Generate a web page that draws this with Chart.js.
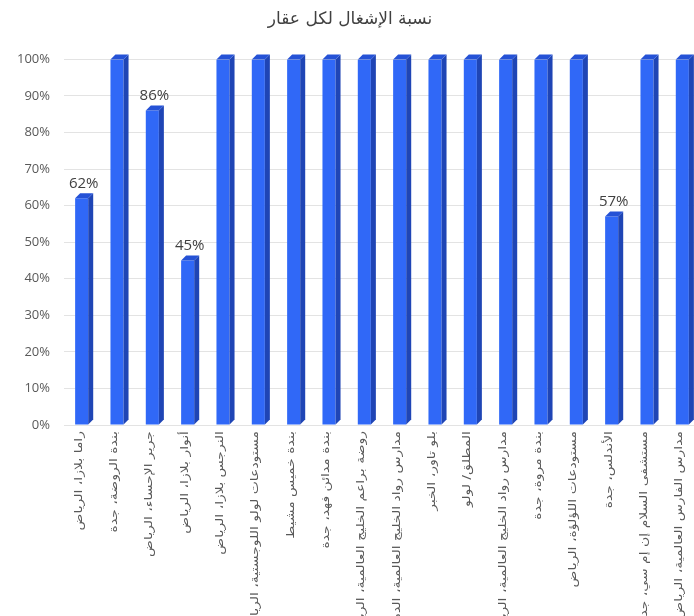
<!DOCTYPE html>
<html>
<head>
<meta charset="utf-8">
<script src="https://cdn.jsdelivr.net/npm/chart.js@4/dist/chart.umd.min.js"></script>
<style>
  html, body { margin: 0; padding: 0; background: #fff; overflow: hidden; }
  #wrap { width: 700px; height: 616px; }
</style>
</head>
<body>
<div id="wrap"><canvas id="chart"></canvas></div>
<script>
// categories (properties) and occupancy values
var properties = [
  "راما بلازا، الرياض",
  "بندة الروضة، جدة",
  "جرير الإحساء، الرياض",
  "أنوار بلازا، الرياض",
  "النرجس بلازا، الرياض",
  "مستودعات لولو اللوجستية، الرياض",
  "بندة خميس مشيط",
  "بندة مدائن فهد، جدة",
  "روضة براعم الخليج العالمية، الرياض",
  "مدارس رواد الخليج العالمية، الدمام",
  "بلو تاور، الخبر",
  "المطلق/ لولو",
  "مدارس رواد الخليج العالمية، الرياض",
  "بندة مروة، جدة",
  "مستودعات اللؤلؤة، الرياض",
  "الأندلس، جدة",
  "مستشفى السلام إن إم سي، جدة",
  "مدارس الفارس العالمية، الرياض"
];
var occupancy = [62, 100, 86, 45, 100, 100, 100, 100, 100, 100, 100, 100, 100, 100, 100, 57, 100, 100];
var yTicks = [0, 10, 20, 30, 40, 50, 60, 70, 80, 90, 100];

var arabicFont = "'DejaVu Sans', 'Noto Sans', sans-serif";

// fake 3d sides + value labels for bars under 100%
var bars3d = {
  id: "bars3d",
  afterDatasetsDraw: function(chart) {
    var ctx = chart.ctx;
    var meta = chart.getDatasetMeta(0);
    var d = 5;
    ctx.save();
    meta.data.forEach(function(bar, i) {
      var half = bar.width / 2;
      var l = bar.x - half, r = bar.x + half;
      // side
      ctx.fillStyle = "#1f45b5";
      ctx.beginPath();
      ctx.moveTo(r, bar.y);
      ctx.lineTo(r + d, bar.y - d);
      ctx.lineTo(r + d, bar.base - d);
      ctx.lineTo(r, bar.base);
      ctx.closePath();
      ctx.fill();
      // top
      ctx.fillStyle = "#2552d6";
      ctx.beginPath();
      ctx.moveTo(l, bar.y);
      ctx.lineTo(l + d, bar.y - d);
      ctx.lineTo(r + d, bar.y - d);
      ctx.lineTo(r, bar.y);
      ctx.closePath();
      ctx.fill();

      var v = occupancy[i];
      if (v < 100) {
        ctx.fillStyle = "#404040";
        ctx.font = "15px 'Open Sans', 'DejaVu Sans', sans-serif";
        ctx.textAlign = "center";
        ctx.textBaseline = "bottom";
        ctx.fillText(v + "%", bar.x + 2, bar.y - d - 2);
      }
    });
    ctx.restore();
  }
};

// x labels drawn stretched along their length (the original font is wider)
var xLabels = {
  id: "xLabels",
  afterDraw: function(chart) {
    var ctx = chart.ctx;
    var xs = chart.scales.x;
    ctx.save();
    ctx.fillStyle = "#595959";
    ctx.font = "11px " + arabicFont;
    ctx.textAlign = "right";
    ctx.textBaseline = "middle";
    properties.forEach(function(name, i) {
      var x = xs.getPixelForTick(i) - 3;
      ctx.save();
      ctx.translate(x, xs.top + 6);
      ctx.rotate(-Math.PI / 2);
      ctx.scale(1.27, 1);
      ctx.fillText(name, 0, 0);
      ctx.restore();
    });
    ctx.restore();
  }
};

new Chart(document.getElementById("chart"), {
  type: "bar",
  data: {
    labels: properties,
    datasets: [{
      data: occupancy,
      backgroundColor: "#3068f7",
      borderWidth: 0,
      barPercentage: 0.37,
      categoryPercentage: 1.0
    }]
  },
  options: {
    responsive: true,
    maintainAspectRatio: false,
    animation: false,
    layout: { padding: 0 },
    plugins: {
      legend: { display: false },
      tooltip: { enabled: false },
      title: {
        display: true,
        text: "نسبة الإشغال لكل عقار",
        color: "#404040",
        font: { family: arabicFont, size: 17, weight: "normal" },
        padding: { top: 9, bottom: 30 }
      }
    },
    scales: {
      x: {
        grid: { display: false, drawTicks: false },
        border: { display: false },
        ticks: { display: false, autoSkip: false },
        afterFit: function(scale) { scale.height = 191; }
      },
      y: {
        min: 0,
        max: 100,
        afterBuildTicks: function(scale) {
          scale.ticks = yTicks.map(function(v) { return { value: v }; });
        },
        grid: { color: "#e3e3e3", drawTicks: false, lineWidth: 1 },
        border: { display: false },
        ticks: {
          padding: 14,
          color: "#595959",
          font: { family: "'Open Sans', 'DejaVu Sans', sans-serif", size: 13 },
          callback: function(v) { return v + "%"; }
        },
        afterFit: function(scale) { scale.width = 64; }
      }
    }
  },
  plugins: [bars3d, xLabels]
});
</script>
</body>
</html>
